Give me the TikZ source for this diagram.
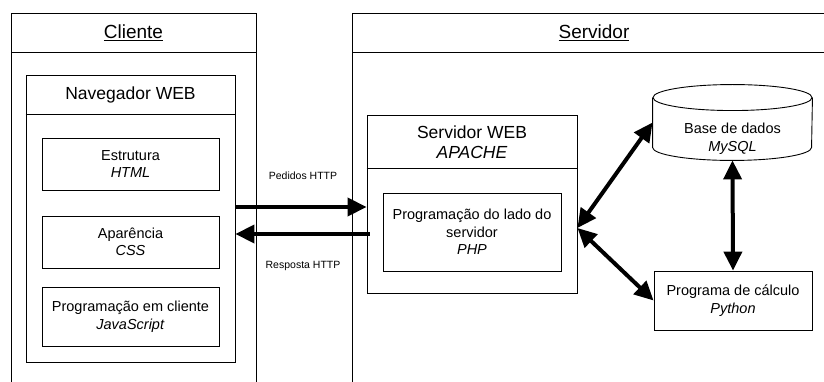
\documentclass[tikz,border=0pt]{standalone}
\usepackage{fontspec}
\setmainfont{Liberation Sans}
\usetikzlibrary{arrows.meta}

\tikzset{
	lane/.style={line width=0.9pt},
	box/.style={draw,line width=0.9pt,rectangle,inner sep=0pt,align=center,
		font=\fontsize{14.5}{17.5}\selectfont},
	title/.style={align=center,inner sep=0pt,font=\fontsize{17.5}{20}\selectfont},
	head/.style={inner sep=0pt,font=\fontsize{19}{22}\selectfont},
	msg/.style={inner sep=0pt,font=\fontsize{10.5}{12}\selectfont},
	flow/.style={line width=4pt,-{Triangle[length=19pt,width=18pt]}},
	twoway/.style={line width=4pt,{Triangle[length=19pt,width=18pt]}-{Triangle[length=19pt,width=18pt]}}
}

\begin{document}
\begin{tikzpicture}[x=1pt,y=-1pt]

\useasboundingbox (0,0) rectangle (824,382);
\clip (0,0) rectangle (824,382);

% lanes
\draw[lane] (11,382) |- (256,13) -- (256,382);
\draw[lane] (11,52) -- (256,52);
\draw[lane] (352,382) |- (840,13);
\draw[lane] (352,52) -- (840,52);
\node[head] (cliente)  at (133.5,33) {\underline{Cliente}};
\node[head] (servidor) at (594,33)   {\underline{Servidor}};

% client side
\node[box,minimum width=209pt,minimum height=287pt] (nav) at (130.5,218.5) {};
\draw[lane] ([yshift=-40pt]nav.north west) -- ([yshift=-40pt]nav.north east);
\node[title] (navt) at (130.5,95) {Navegador WEB};

\node[box,minimum width=177pt,minimum height=52pt] (html) at (130.5,164)   {Estrutura\\\textit{HTML}};
\node[box,minimum width=177pt,minimum height=52pt] (css)  at (130.5,242)   {Aparência\\\textit{CSS}};
\node[box,minimum width=177pt,minimum height=59pt] (js)   at (130.5,316.5) {Programação em cliente\\\textit{JavaScript}};

% server side
\node[box,minimum width=210pt,minimum height=178pt] (web) at (472,204) {};
\draw[lane] ([yshift=-54pt]web.north west) -- ([yshift=-54pt]web.north east);
\node[title] (webt) at (472,142) {Servidor WEB\\\textit{APACHE}};

\node[box,minimum width=178pt,minimum height=78pt] (php) at (472,232) {Programação do lado do\\servidor\\\textit{PHP}};

% database drum
\node[box,draw=none,minimum width=159pt,minimum height=75pt] (db) at (732.5,122.5) {};
\draw[lane] ([yshift=-13pt]db.north) ellipse [x radius=79.5pt,y radius=13pt];
\draw[lane] ([yshift=-13pt]db.north west) -- ([yshift=13pt]db.south west)
	arc[start angle=180,end angle=360,x radius=79.5pt,y radius=13pt] -- ([yshift=-13pt]db.north east);
\node[box,draw=none] (dbt) at (732.5,139) {Base de dados\\\textit{MySQL}};

\node[box,minimum width=158pt,minimum height=59pt] (py) at (733,300.5) {Programa de cálculo\\\textit{Python}};

% messages
\node[msg] (pedidos)  at (303,176) {Pedidos HTTP};
\node[msg] (resposta) at (303,266) {Resposta HTTP};

\coordinate (hub) at ([yshift=-24pt]web.east);

\draw[flow] ([yshift=11.5pt]nav.east) -- ([yshift=-3pt]web.west);
\draw[flow] ([yshift=-30pt,xshift=3pt]web.west) -- ([yshift=-15.5pt]nav.east);
\draw[twoway] (hub) -- (db.west);
\draw[twoway] (hub) -- (py.west);
\draw[twoway] (db.south) -- (py.north);

\end{tikzpicture}
\end{document}
